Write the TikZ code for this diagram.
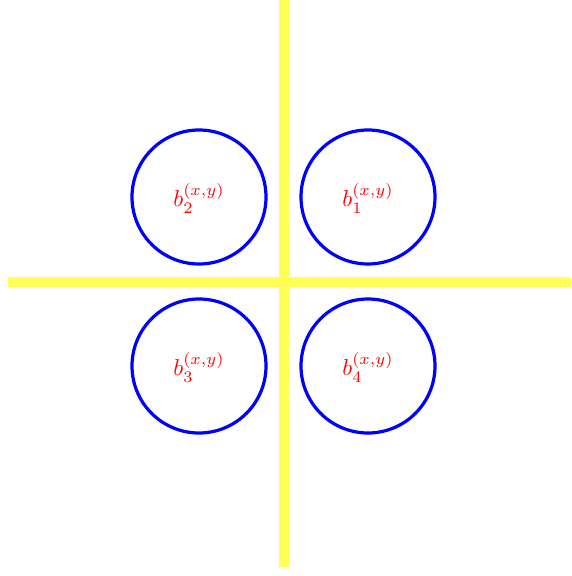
\documentclass[tikz,border=0pt]{standalone}
\definecolor{ylw}{RGB}{255,255,85}
\tikzset{
  bar/.style={draw=ylw, line width=10pt},
  ball/.style={draw=blue, line width=3.2pt, circle, minimum size=134pt, inner sep=0pt},
  lbl/.style={text=red, scale=2.3}
}
\begin{document}
\begin{tikzpicture}[x=1pt,y=-1pt]
\useasboundingbox (0,0) rectangle (571,576);
\coordinate (vt) at (284,0);
\coordinate (vb) at (284,567);
\coordinate (hl) at (8,282);
\coordinate (hr) at (571,282);
\draw[bar] (vt) -- (vb);
\draw[bar] (hl) -- (hr);
\node[ball] (c2) at (199,197) {};
\node[ball] (c1) at (368,197) {};
\node[ball] (c3) at (199,366) {};
\node[ball] (c4) at (368,366) {};
\node[lbl] (l2) at ([yshift=-1pt]c2) {$b_2^{(x,y)}$};
\node[lbl] (l1) at ([yshift=-1pt]c1) {$b_1^{(x,y)}$};
\node[lbl] (l3) at ([yshift=-1pt]c3) {$b_3^{(x,y)}$};
\node[lbl] (l4) at ([yshift=-1pt]c4) {$b_4^{(x,y)}$};
\end{tikzpicture}
\end{document}
